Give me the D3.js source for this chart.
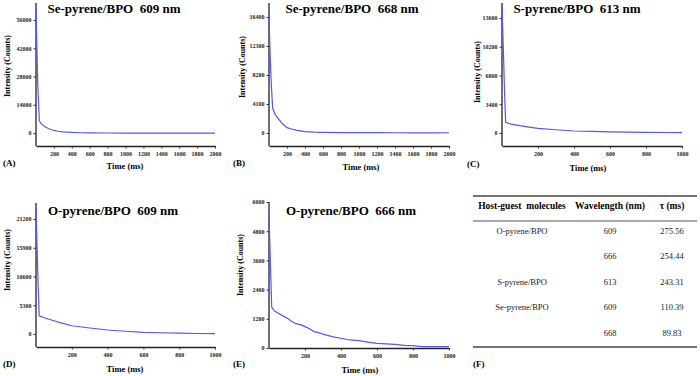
<!DOCTYPE html>
<html>
<head>
<meta charset="utf-8">
<script src="https://cdn.jsdelivr.net/npm/d3@7"></script>
<style>
  body { margin: 0; background: #fff; }
  svg text { font-family: "Liberation Serif", "Times New Roman", serif; }
</style>
</head>
<body>
<svg id="fig" width="700" height="376"></svg>
<script>
// decay curves (time in ms, intensity in counts)
var seA_t = [0, 10, 20, 37, 60, 80, 100, 150, 200, 250, 300, 400, 500, 600, 800, 1000, 1200, 1400, 1600, 1800, 2000];
var seA_v = [62000, 42000, 24000, 6100, 4600, 3800, 3100, 2000, 1300, 900, 600, 300, 150, 80, 40, 20, 10, 10, 5, 5, 0];

var seB_t = [0, 10, 25, 41, 70, 100, 150, 200, 250, 300, 400, 500, 600, 800, 1000, 1200, 1400, 1600, 1800, 2000];
var seB_v = [16700, 12000, 7000, 3490, 2600, 2080, 1300, 750, 560, 400, 200, 120, 80, 50, 40, 40, 35, 30, 20, 30];

var sC_t = [0, 8, 14, 20, 50, 100, 150, 200, 300, 400, 500, 600, 700, 800, 900, 1000];
var sC_v = [15000, 9500, 5000, 1265, 1050, 860, 700, 550, 380, 236, 180, 130, 100, 70, 55, 30];

var oD_t = [0, 6, 12, 18, 50, 100, 150, 200, 300, 400, 500, 600, 700, 800, 900, 1000];
var oD_v = [23300, 16000, 9000, 3356, 2950, 2440, 1950, 1520, 1100, 730, 500, 310, 230, 150, 90, 50];

var oE_t = [0, 5, 10, 15, 30, 50, 75, 100, 125, 150, 175, 200, 225, 250, 275, 300, 350, 400, 450, 500, 550, 600, 650, 700, 750, 800, 850, 900, 950, 1000];
var oE_v = [5500, 4200, 2900, 1684, 1520, 1435, 1330, 1230, 1100, 1000, 960, 880, 790, 675, 630, 567, 470, 400, 330, 300, 240, 193, 170, 150, 110, 100, 60, 55, 55, 60];

var titles = ["Se-pyrene/BPO  609 nm", "Se-pyrene/BPO  668 nm", "S-pyrene/BPO  613 nm", "O-pyrene/BPO  609 nm", "O-pyrene/BPO  666 nm"];
var letters = ["(A)", "(B)", "(C)", "(D)", "(E)", "(F)"];
var yTicksA = [0, 14000, 28000, 42000, 56000];
var yTicksB = [0, 4100, 8200, 12300, 16400];
var yTicksC = [0, 3400, 6800, 10200, 13600];
var yTicksD = [0, 5300, 10600, 15900, 21200];
var yTicksE = [0, 1200, 2400, 3600, 4800, 6000];
var xTicks2000 = [200, 400, 600, 800, 1000, 1200, 1400, 1600, 1800, 2000];
var xTicks1000 = [200, 400, 600, 800, 1000];

// table (F)
var tblHead = ["Host-guest  molecules", "Wavelength (nm)", "\u03c4 (ms)"];
var tblHost = ["O-pyrene/BPO", "", "S-pyrene/BPO", "Se-pyrene/BPO", ""];
var tblWave = ["609", "666", "613", "609", "668"];
var tblTau = ["275.56", "254.44", "243.31", "110.39", "89.83"];

var svg = d3.select("#fig");
var lineCol = "#5656f0";

var panels = [
  {t: seA_t, v: seA_v, xr: [36, 215], xmax: 2000, yr: [146, 3], yd: [-6400, 64400], yt: yTicksA, xt: xTicks2000,
   title: [114, 13], lab: [3, 166], ytl: [8, 66], xtl: [125, 169]},
  {t: seB_t, v: seB_v, xr: [269, 449], xmax: 2000, yr: [146, 3], yd: [-1840, 18380], yt: yTicksB, xt: xTicks2000,
   title: [352, 13], lab: [233, 166], ytl: [243, 67], xtl: [361, 170]},
  {t: sC_t, v: sC_v, xr: [502, 682], xmax: 1000, yr: [146, 3], yd: [-1540, 15370], yt: yTicksC, xt: xTicks1000,
   title: [577, 13], lab: [467, 167], ytl: [478, 72], xtl: [588, 171]},
  {t: oD_t, v: oD_v, xr: [36, 215], xmax: 1000, yr: [347, 203], yd: [-2400, 24150], yt: yTicksD, xt: xTicks1000,
   title: [113, 215], lab: [3, 367], ytl: [8, 260], xtl: [125, 372]},
  {t: oE_t, v: oE_v, xr: [269, 449], xmax: 1000, yr: [348, 202], yd: [0, 6000], yt: yTicksE, xt: xTicks1000,
   title: [351, 215], lab: [233, 367], ytl: [241, 265], xtl: [360, 373]}
];

panels.forEach(function(p, i) {
  var x = d3.scaleLinear().domain([0, p.xmax]).range(p.xr);
  var y = d3.scaleLinear().domain(p.yd).range(p.yr);
  var g = svg.append("g");

  var yAx = g.append("g")
    .attr("transform", "translate(" + p.xr[0] + ",0)")
    .call(d3.axisLeft(y).tickValues(p.yt).tickSize(2.5).tickSizeOuter(0).tickPadding(2).tickFormat(d3.format("d")));
  var xAx = g.append("g")
    .attr("transform", "translate(0," + p.yr[0] + ")")
    .call(d3.axisBottom(x).tickValues(p.xt).tickSize(2.5).tickSizeOuter(0).tickPadding(3).tickFormat(d3.format("d")));

  [yAx, xAx].forEach(function(ax) {
    ax.attr("font-family", null);
    ax.selectAll("path.domain").attr("stroke", "#222").attr("stroke-width", 1.3);
    ax.selectAll(".tick line").attr("stroke", "#222").attr("stroke-width", 0.9);
    ax.selectAll(".tick text").attr("font-weight", "bold")
      .attr("font-size", 6).attr("fill", "#222");
  });
  // extend y axis line to the corner
  yAx.select("path.domain").attr("d", "M0," + p.yr[0] + "V" + p.yr[1]);

  var line = d3.line().x(function(d) { return x(d[0]); }).y(function(d) { return y(d[1]); });
  g.append("path")
    .datum(d3.zip(p.t, p.v))
    .attr("d", line)
    .attr("fill", "none")
    .attr("stroke", lineCol)
    .attr("stroke-width", 1.2);

  g.append("text")
    .attr("x", p.title[0]).attr("y", p.title[1])
    .attr("text-anchor", "middle")
    .attr("font-size", 13).attr("font-weight", "bold")
    .style("white-space", "pre")
    .text(titles[i]);

  g.append("text")
    .attr("transform", "translate(" + p.ytl[0] + "," + p.ytl[1] + ") rotate(-90)")
    .attr("text-anchor", "middle").attr("dominant-baseline", "middle")
    .attr("font-size", 8).attr("font-weight", "bold")
    .text("Intensity (Counts)");

  g.append("text")
    .attr("x", p.xtl[0]).attr("y", p.xtl[1])
    .attr("text-anchor", "middle")
    .attr("font-size", 8.5).attr("font-weight", "bold")
    .text("Time (ms)");

  g.append("text")
    .attr("x", p.lab[0]).attr("y", p.lab[1])
    .attr("font-size", 9).attr("font-weight", "bold")
    .text(letters[i]);
});

// ---- table (F) ----
var tb = svg.append("g");
var colX = [522, 610, 672];
var rowY = d3.scalePoint().domain(d3.range(tblWave.length)).range([232, 334]);

tb.append("line").attr("x1", 473).attr("x2", 697).attr("y1", 196).attr("y2", 196).attr("stroke", "#444").attr("stroke-width", 1.6);
tb.append("line").attr("x1", 473).attr("x2", 697).attr("y1", 221).attr("y2", 221).attr("stroke", "#444").attr("stroke-width", 0.9);
tb.append("line").attr("x1", 473).attr("x2", 697).attr("y1", 347).attr("y2", 347).attr("stroke", "#444").attr("stroke-width", 1.6);

tb.selectAll("text.head").data(tblHead).enter().append("text")
  .attr("class", "head")
  .attr("x", function(d, i) { return colX[i]; })
  .attr("y", 207)
  .attr("text-anchor", "middle").attr("dominant-baseline", "middle")
  .attr("font-size", 9.5).attr("font-weight", "bold")
  .style("white-space", "pre")
  .text(function(d) { return d; });

[tblHost, tblWave, tblTau].forEach(function(col, c) {
  tb.selectAll("text.c" + c).data(col).enter().append("text")
    .attr("class", "c" + c)
    .attr("x", colX[c])
    .attr("y", function(d, i) { return rowY(i); })
    .attr("text-anchor", "middle").attr("dominant-baseline", "middle")
    .attr("font-size", 8.5).attr("fill", "#222")
    .text(function(d) { return d; });
});

tb.append("text").attr("x", 473).attr("y", 367)
  .attr("font-size", 9).attr("font-weight", "bold").text(letters[5]);
</script>
</body>
</html>
